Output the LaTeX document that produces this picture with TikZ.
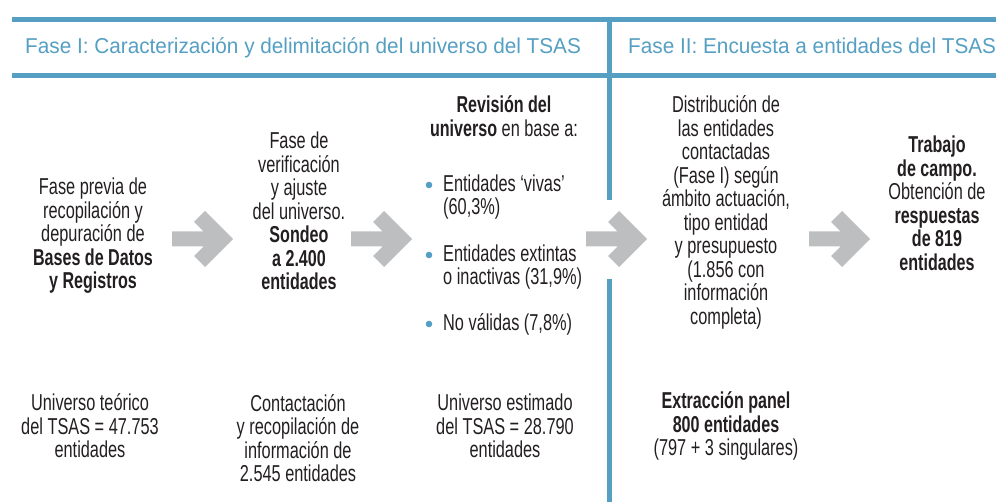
\documentclass[tikz,border=0pt]{standalone}
\usepackage{fontspec}
\setmainfont{Liberation Sans}[FakeStretch=0.71, BoldFeatures={FakeStretch=0.70}]
\newfontfamily\hdrfont{Liberation Sans}[FakeStretch=0.965]
\definecolor{fblue}{HTML}{559FC2}
\definecolor{agrey}{HTML}{BDBEC0}
\definecolor{ink}{HTML}{231F20}
\tikzset{
  body/.style={align=center, text=ink, inner sep=0pt, font=\fontsize{23}{23.5}\selectfont},
  lbody/.style={align=left, text=ink, inner sep=0pt, anchor=west, font=\fontsize{23}{23.5}\selectfont},
  hdr/.style={text=fblue, inner sep=0pt, anchor=base west, font=\hdrfont\fontsize{21.5}{24}\selectfont},
  rule/.style={draw=fblue, line width=5pt},
  bigarrow/.pic={\fill[agrey] (-61,-7.5) -- (-29.5,-7.5) -- (-39,-17) -- (-28,-28) -- (0,0) -- (-28,28) -- (-39,17) -- (-29.5,7.5) -- (-61,7.5) -- cycle;},
  dot/.style={circle, fill=fblue, inner sep=0pt, minimum size=6.6pt}
}
\begin{document}
\begin{tikzpicture}[x=1pt, y=-1pt]
\useasboundingbox (0,0) rectangle (996,502);
% rules
\coordinate (t1) at (12,19.5); \coordinate (t2) at (996,19.5);
\coordinate (b1) at (12,75.5); \coordinate (b2) at (996,75.5);
\coordinate (v1) at (609.5,17); \coordinate (v2) at (609.5,200);
\coordinate (v3) at (609.5,279); \coordinate (v4) at (609.5,502);
\draw[rule] (t1) -- (t2);
\draw[rule] (b1) -- (b2);
\draw[rule] (v1) -- (v2);
\draw[rule] (v3) -- (v4);
% headers
\node[hdr] (h1) at (25,54) {Fase I: Caracterización y delimitación del universo del TSAS};
\node[hdr] (h2) at (628,54) {Fase II: Encuesta a entidades del TSAS};
% column 1
\node[body] (c1) at (93,236) {Fase previa de\\recopilación y\\depuración de\\\textbf{Bases de Datos}\\\textbf{y Registros}};
% column 2
\node[body] (c2) at (299,211) {Fase de\\verificación\\y ajuste\\del universo.\\\textbf{Sondeo}\\\textbf{a 2.400}\\\textbf{entidades}};
% column 3
\node[body] (c3) at (504,116) {\textbf{Revisión del}\\\textbf{universo} en base a:};
\node[lbody] (i1) at (443,197) {Entidades ‘vivas’\\(60,3\%)};
\node[lbody] (i2) at (443,267) {Entidades extintas\\o inactivas (31,9\%)};
\node[lbody] (i3) at (443,324) {No válidas (7,8\%)};
\node[dot] (d1) at (429,185) {};
\node[dot] (d2) at (429,255) {};
\node[dot] (d3) at (429,324) {};
% column 4
\node[body] (c4) at (726,212.5) {Distribución de\\las entidades\\contactadas\\(Fase I) según\\ámbito actuación,\\tipo entidad\\y presupuesto\\(1.856 con\\información\\completa)};
% column 5
\node[body] (c5) at (937,203.5) {\textbf{Trabajo}\\\textbf{de campo.}\\Obtención de\\\textbf{respuestas}\\\textbf{de 819}\\\textbf{entidades}};
% arrows
\pic at (233,239) {bigarrow};
\pic at (412,239) {bigarrow};
\pic at (647,239) {bigarrow};
\pic at (870,239) {bigarrow};
% bottom row
\node[body] (r1) at (90,426) {Universo teórico\\del TSAS = 47.753\\entidades};
\node[body] (r2) at (298,438) {Contactación\\y recopilación de\\información de\\2.545 entidades};
\node[body] (r3) at (505,426) {Universo estimado\\del TSAS = 28.790\\entidades};
\node[body] (r4) at (726,426) {\textbf{Extracción panel}\\\textbf{800 entidades}\\(797 + 3 singulares)};
\end{tikzpicture}
\end{document}
